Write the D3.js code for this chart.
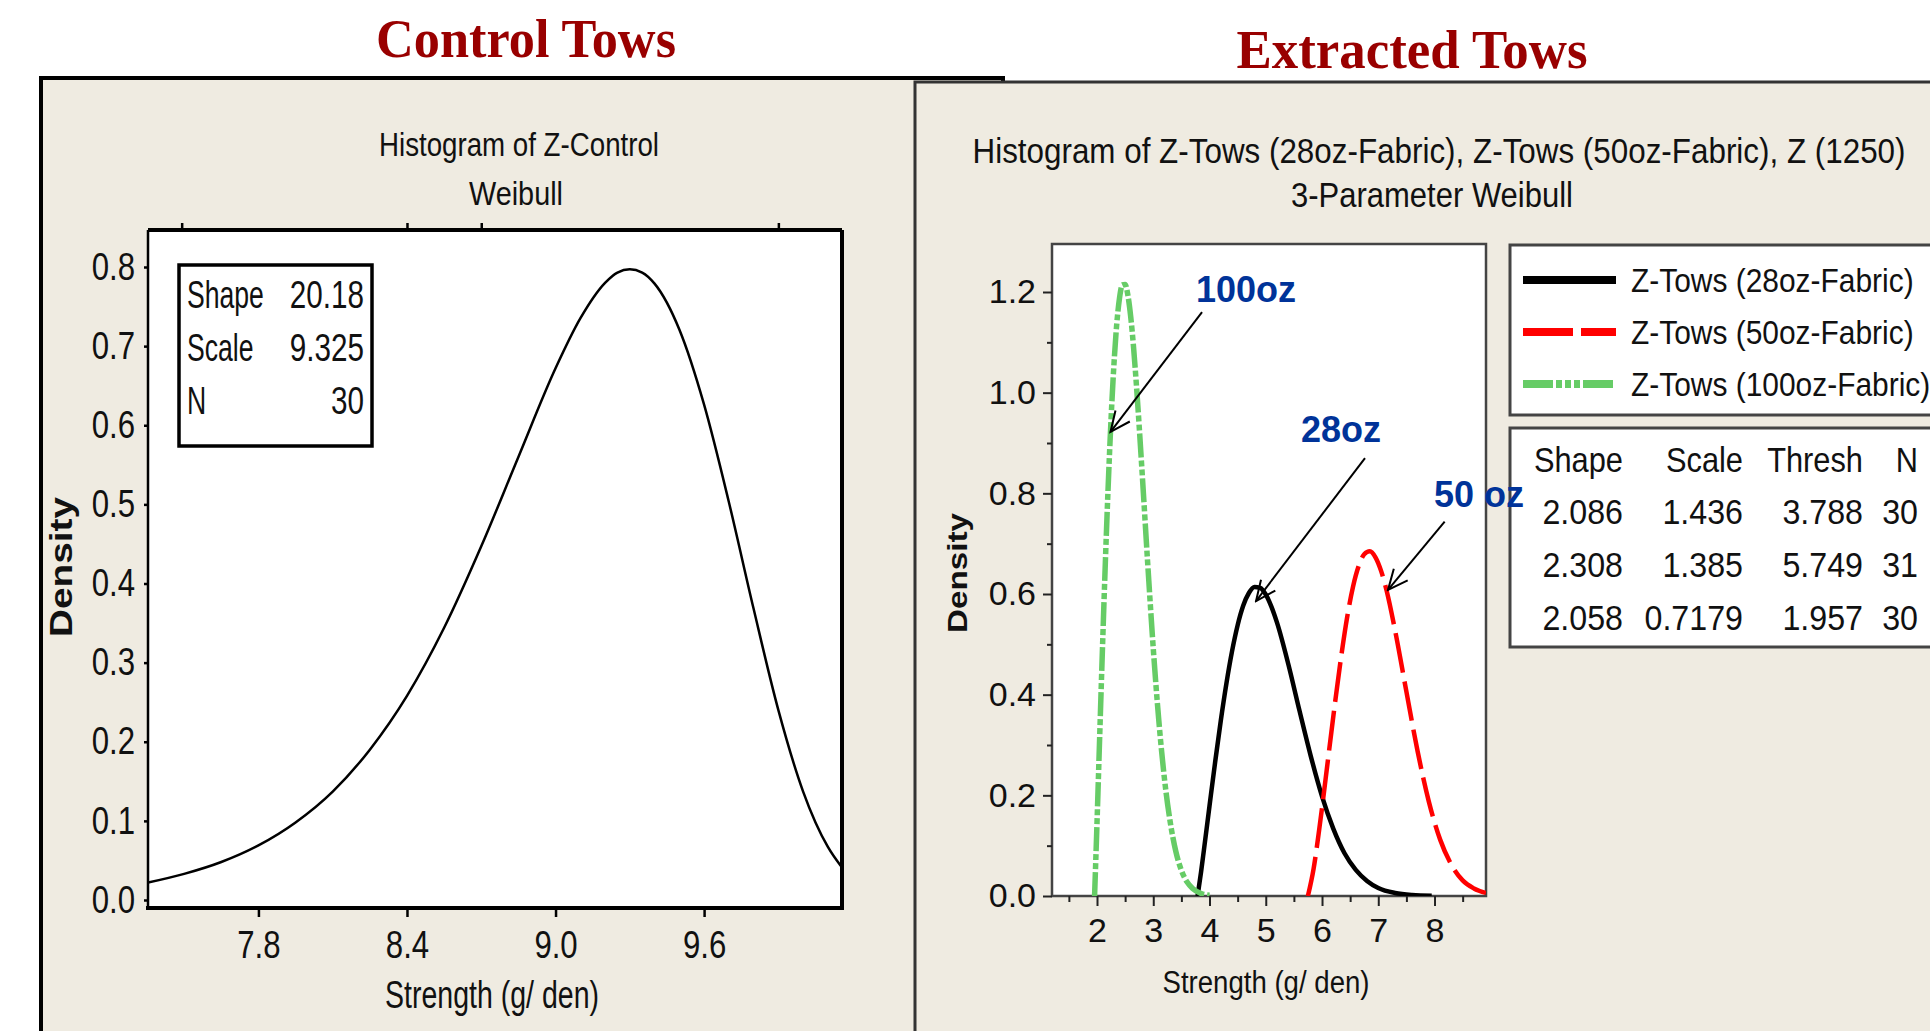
<!DOCTYPE html>
<html>
<head>
<meta charset="utf-8">
<script src="https://cdn.jsdelivr.net/npm/d3@7"></script>
<style>
  body { margin: 0; background: #fff; }
  svg text { font-family: "Liberation Sans", Arial, sans-serif; fill: #111; }
  .banner { font-family: "Liberation Serif", "Times New Roman", serif; font-weight: bold; fill: #990000; }
  .note { font-weight: bold; fill: #003399; }
</style>
</head>
<body>
<div id="chart"></div>
<script>
// ---------------- data ----------------
// left: Z-Control, Weibull fit
var controlX = [7.354, 7.5, 7.65, 7.8, 7.95, 8.1, 8.25, 8.4, 8.55, 8.7, 8.85, 9.0, 9.1, 9.2, 9.25, 9.3, 9.35, 9.4, 9.5, 9.6, 9.7, 9.8, 9.9, 10.0, 10.1, 10.157];
var controlY = [0.022, 0.033, 0.048, 0.069, 0.098, 0.137, 0.190, 0.258, 0.344, 0.447, 0.560, 0.672, 0.735, 0.780, 0.793, 0.797, 0.793, 0.779, 0.721, 0.626, 0.503, 0.368, 0.240, 0.137, 0.067, 0.041];
var controlXTicks = [7.8, 8.4, 9.0, 9.6];
var controlYTicks = [0, 0.1, 0.2, 0.3, 0.4, 0.5, 0.6, 0.7, 0.8];
var controlTopTicks = [7.49, 8.40, 8.70, 9.90];
var controlStats = [["Shape", "20.18"], ["Scale", "9.325"], ["N", "30"]];

// right: extracted tows, 3-parameter Weibull fits
var tow28X = [3.788, 3.85, 3.9, 4.0, 4.1, 4.2, 4.3, 4.4, 4.5, 4.6, 4.7, 4.8, 4.9, 5.0, 5.1, 5.2, 5.4, 5.6, 5.8, 6.0, 6.2, 6.4, 6.6, 6.8, 7.0, 7.3, 7.6, 7.95];
var tow28Y = [0, 0.048, 0.091, 0.179, 0.266, 0.348, 0.422, 0.486, 0.538, 0.577, 0.602, 0.614, 0.612, 0.599, 0.575, 0.543, 0.461, 0.368, 0.278, 0.198, 0.134, 0.085, 0.052, 0.030, 0.016, 0.006, 0.002, 0.0005];
var tow50X = [5.749, 5.85, 5.95, 6.05, 6.15, 6.25, 6.35, 6.45, 6.55, 6.65, 6.75, 6.85, 6.95, 7.05, 7.15, 7.3, 7.5, 7.7, 7.9, 8.1, 8.3, 8.5, 8.7, 8.915];
var tow50Y = [0, 0.054, 0.132, 0.220, 0.311, 0.400, 0.483, 0.556, 0.614, 0.655, 0.679, 0.685, 0.673, 0.646, 0.606, 0.527, 0.406, 0.287, 0.187, 0.112, 0.062, 0.031, 0.015, 0.006];
var tow100X = [1.957, 2.0, 2.05, 2.1, 2.15, 2.2, 2.25, 2.3, 2.35, 2.4, 2.45, 2.5, 2.55, 2.6, 2.65, 2.7, 2.8, 2.9, 3.0, 3.1, 3.2, 3.3, 3.4, 3.5, 3.6, 3.7, 3.85, 4.0];
var tow100Y = [0, 0.145, 0.325, 0.502, 0.668, 0.818, 0.948, 1.054, 1.135, 1.188, 1.214, 1.215, 1.193, 1.150, 1.090, 1.016, 0.845, 0.663, 0.492, 0.347, 0.232, 0.148, 0.089, 0.051, 0.028, 0.015, 0.005, 0.0015];

var seriesNames = ["Z-Tows (28oz-Fabric)", "Z-Tows (50oz-Fabric)", "Z-Tows (100oz-Fabric)"];
var statHeader = ["Shape", "Scale", "Thresh", "N"];
var shapeVals = ["2.086", "2.308", "2.058"];
var scaleVals = ["1.436", "1.385", "0.7179"];
var threshVals = ["3.788", "5.749", "1.957"];
var nVals = ["30", "31", "30"];

var towXTicks = [2, 3, 4, 5, 6, 7, 8];
var towXMinor = [1.5, 2.5, 3.5, 4.5, 5.5, 6.5, 7.5, 8.5];
var towYTicks = [0, 0.2, 0.4, 0.6, 0.8, 1.0, 1.2];
var towYMinor = [0.1, 0.3, 0.5, 0.7, 0.9, 1.1];

// callouts: label anchor, arrow start, arrow tip (data units)
var callouts = [
  { text: "100oz", lx: 3.76, ly: 1.180, x1: 3.867, y1: 1.160, x2: 2.24, y2: 0.922 },
  { text: "28oz",  lx: 5.627, ly: 0.902, x1: 6.764, y1: 0.870, x2: 4.827, y2: 0.586 },
  { text: "50 oz", lx: 7.991, ly: 0.773, x1: 8.18, y1: 0.744, x2: 7.173, y2: 0.608 }
];

// ---------------- drawing ----------------
var width = 1930, height = 1031;
var beige = "#efebe1";

var svg = d3.select("#chart").append("svg")
            .attr("width", width)
            .attr("height", height);

svg.append("defs").append("marker")
   .attr("id", "arrowhead")
   .attr("viewBox", "-22 -12 24 24")
   .attr("refX", 0).attr("refY", 0)
   .attr("markerWidth", 24).attr("markerHeight", 24)
   .attr("markerUnits", "userSpaceOnUse")
   .attr("orient", "auto")
   .append("path")
   .attr("d", "M-20,-9 L0,0 L-20,9")
   .attr("fill", "none").attr("stroke", "#000").attr("stroke-width", 2);

drawControl();
drawExtracted();

// the source plots use a tall, narrow screen font: squeeze the glyphs horizontally
function squeeze (sel, f) {
  sel.each(function () {
    var w = this.getComputedTextLength();
    d3.select(this).attr("textLength", w * f).attr("lengthAdjust", "spacingAndGlyphs");
  });
}

function drawControl () {
  // panel
  svg.append("rect").attr("x", 41).attr("y", 78).attr("width", 962).attr("height", 1000)
     .attr("fill", beige).attr("stroke", "#000").attr("stroke-width", 4);

  svg.append("text").attr("class", "banner")
     .attr("x", 526).attr("y", 57).attr("text-anchor", "middle")
     .attr("font-size", 54).attr("textLength", 300).attr("lengthAdjust", "spacingAndGlyphs")
     .text("Control Tows");

  svg.append("text").attr("x", 519).attr("y", 156)
     .attr("text-anchor", "middle").attr("font-size", 34)
     .attr("textLength", 280).attr("lengthAdjust", "spacingAndGlyphs")
     .text("Histogram of Z-Control");
  svg.append("text").attr("x", 516).attr("y", 205)
     .attr("text-anchor", "middle").attr("font-size", 34)
     .attr("textLength", 94).attr("lengthAdjust", "spacingAndGlyphs")
     .text("Weibull");

  var left = 148, right = 842, top = 230, bottom = 908;
  var x = d3.scaleLinear().domain([7.354, 10.157]).range([left, right]);
  var y = d3.scaleLinear().domain([0, 0.8]).range([900, 267]);

  svg.append("rect").attr("x", left).attr("y", top)
     .attr("width", right - left).attr("height", bottom - top).attr("fill", "#fff");

  svg.append("clipPath").attr("id", "clipL").append("rect")
     .attr("x", left).attr("y", top).attr("width", right - left).attr("height", bottom - top);

  var line = d3.line().x(function (d) { return x(d[0]); })
                      .y(function (d) { return y(d[1]); })
                      .curve(d3.curveMonotoneX);
  svg.append("path").datum(d3.zip(controlX, controlY))
     .attr("clip-path", "url(#clipL)")
     .attr("d", line).attr("fill", "none")
     .attr("stroke", "#000").attr("stroke-width", 2.5);

  // frame
  svg.append("line").attr("x1", left).attr("x2", right).attr("y1", top).attr("y2", top)
     .attr("stroke", "#000").attr("stroke-width", 4);
  svg.append("line").attr("x1", right).attr("x2", right).attr("y1", top).attr("y2", bottom)
     .attr("stroke", "#000").attr("stroke-width", 4);
  svg.append("line").attr("x1", left).attr("x2", left).attr("y1", top).attr("y2", bottom)
     .attr("stroke", "#000").attr("stroke-width", 2.5);
  svg.append("line").attr("x1", left - 2).attr("x2", right + 2).attr("y1", bottom).attr("y2", bottom)
     .attr("stroke", "#000").attr("stroke-width", 4);

  // axes
  var xAxis = d3.axisBottom(x).tickValues(controlXTicks).tickFormat(d3.format(".1f"))
                .tickSize(9).tickPadding(14);
  var gx = svg.append("g").attr("transform", "translate(0," + bottom + ")").call(xAxis);
  gx.select(".domain").remove();
  gx.selectAll("line").attr("stroke-width", 2.5);
  gx.selectAll("text").attr("font-size", 38).attr("fill", "#111").call(squeeze, 0.82);

  var gTop = svg.append("g").attr("transform", "translate(0," + top + ")")
                .call(d3.axisTop(x).tickValues(controlTopTicks).tickSize(7).tickFormat(""));
  gTop.select(".domain").remove();
  gTop.selectAll("line").attr("stroke-width", 2.5);

  var yAxis = d3.axisLeft(y).tickValues(controlYTicks).tickFormat(d3.format(".1f"))
                .tickSize(4).tickPadding(9);
  var gy = svg.append("g").attr("transform", "translate(" + left + ",0)").call(yAxis);
  gy.select(".domain").remove();
  gy.selectAll("line").attr("stroke-width", 2.5);
  gy.selectAll("text").attr("font-size", 38).attr("fill", "#111").call(squeeze, 0.82);

  svg.append("text")
     .attr("transform", "translate(72,567) rotate(-90)")
     .attr("text-anchor", "middle").attr("font-size", 32).attr("font-weight", "bold")
     .attr("textLength", 140).attr("lengthAdjust", "spacingAndGlyphs")
     .text("Density");

  svg.append("text").attr("x", 492).attr("y", 1008)
     .attr("text-anchor", "middle").attr("font-size", 38)
     .attr("textLength", 214).attr("lengthAdjust", "spacingAndGlyphs")
     .text("Strength (g/ den)");

  // stats box
  var box = svg.append("g");
  box.append("rect").attr("x", 179).attr("y", 265).attr("width", 193).attr("height", 181)
     .attr("fill", "#fff").attr("stroke", "#000").attr("stroke-width", 3.5);
  box.selectAll("text.k").data(controlStats).enter().append("text")
     .attr("class", "k").attr("x", 187)
     .attr("y", function (d, i) { return 308 + i * 53; })
     .attr("font-size", 38).text(function (d) { return d[0]; })
     .call(squeeze, 0.7);
  box.selectAll("text.v").data(controlStats).enter().append("text")
     .attr("class", "v").attr("x", 364).attr("text-anchor", "end")
     .attr("y", function (d, i) { return 308 + i * 53; })
     .attr("font-size", 38).text(function (d) { return d[1]; })
     .call(squeeze, 0.78);
}

function drawExtracted () {
  svg.append("rect").attr("x", 915).attr("y", 82).attr("width", 1100).attr("height", 1000)
     .attr("fill", beige).attr("stroke", "#333").attr("stroke-width", 3);

  svg.append("text").attr("class", "banner")
     .attr("x", 1412).attr("y", 68).attr("text-anchor", "middle")
     .attr("font-size", 54).attr("textLength", 351).attr("lengthAdjust", "spacingAndGlyphs")
     .text("Extracted Tows");

  svg.append("text").attr("x", 1439).attr("y", 163).attr("text-anchor", "middle")
     .attr("font-size", 35).attr("textLength", 933).attr("lengthAdjust", "spacingAndGlyphs")
     .text("Histogram of Z-Tows (28oz-Fabric), Z-Tows (50oz-Fabric), Z (1250)");
  svg.append("text").attr("x", 1432).attr("y", 207).attr("text-anchor", "middle")
     .attr("font-size", 35).attr("textLength", 282).attr("lengthAdjust", "spacingAndGlyphs")
     .text("3-Parameter Weibull");

  var left = 1052, right = 1486, top = 244, bottom = 896;
  var x = d3.scaleLinear().domain([1.2, 8.915]).range([left, right]);
  var y = d3.scaleLinear().domain([0, 1.2]).range([896, 292]);

  svg.append("rect").attr("x", left).attr("y", top)
     .attr("width", right - left).attr("height", bottom - top)
     .attr("fill", "#fff").attr("stroke", "#444").attr("stroke-width", 2.5);

  svg.append("clipPath").attr("id", "clipR").append("rect")
     .attr("x", left).attr("y", top).attr("width", right - left).attr("height", bottom - top);

  var line = d3.line().x(function (d) { return x(d[0]); })
                      .y(function (d) { return y(d[1]); })
                      .curve(d3.curveMonotoneX);

  var styles = [
    { color: "#000", width: 4.5, dash: null },
    { color: "#ff0000", width: 4.5, dash: "40,9" },
    { color: "#66cc66", width: 5.5, dash: "24,3,6,3,6,3" }
  ];
  var series = [d3.zip(tow28X, tow28Y), d3.zip(tow50X, tow50Y), d3.zip(tow100X, tow100Y)];

  svg.append("g").attr("clip-path", "url(#clipR)")
     .selectAll("path").data(series).enter().append("path")
     .attr("d", line).attr("fill", "none")
     .attr("stroke", function (d, i) { return styles[i].color; })
     .attr("stroke-width", function (d, i) { return styles[i].width; })
     .attr("stroke-dasharray", function (d, i) { return styles[i].dash; });

  // axes
  var gx = svg.append("g").attr("transform", "translate(0," + bottom + ")")
              .call(d3.axisBottom(x).tickValues(towXTicks).tickFormat(d3.format("d"))
                      .tickSize(10).tickPadding(12));
  gx.select(".domain").remove();
  gx.selectAll("line").attr("stroke-width", 2).attr("stroke", "#222");
  gx.selectAll("text").attr("font-size", 34).attr("fill", "#111");
  var gxm = svg.append("g").attr("transform", "translate(0," + bottom + ")")
               .call(d3.axisBottom(x).tickValues(towXMinor).tickFormat("").tickSize(6));
  gxm.select(".domain").remove();
  gxm.selectAll("line").attr("stroke-width", 2).attr("stroke", "#222");

  var gy = svg.append("g").attr("transform", "translate(" + left + ",0)")
              .call(d3.axisLeft(y).tickValues(towYTicks).tickFormat(d3.format(".1f"))
                      .tickSize(9).tickPadding(7));
  gy.select(".domain").remove();
  gy.selectAll("line").attr("stroke-width", 2).attr("stroke", "#222");
  gy.selectAll("text").attr("font-size", 34).attr("fill", "#111");
  var gym = svg.append("g").attr("transform", "translate(" + left + ",0)")
               .call(d3.axisLeft(y).tickValues(towYMinor).tickFormat("").tickSize(5));
  gym.select(".domain").remove();
  gym.selectAll("line").attr("stroke-width", 2).attr("stroke", "#222");

  svg.append("text").attr("transform", "translate(967,573) rotate(-90)")
     .attr("text-anchor", "middle").attr("font-size", 27).attr("font-weight", "bold")
     .attr("textLength", 120).attr("lengthAdjust", "spacingAndGlyphs")
     .text("Density");

  svg.append("text").attr("x", 1266).attr("y", 993).attr("text-anchor", "middle")
     .attr("font-size", 31).attr("textLength", 207).attr("lengthAdjust", "spacingAndGlyphs")
     .text("Strength (g/ den)");

  // legend
  var lg = svg.append("g");
  lg.append("rect").attr("x", 1510).attr("y", 245).attr("width", 500).attr("height", 170)
    .attr("fill", "#fff").attr("stroke", "#444").attr("stroke-width", 3);
  seriesNames.forEach(function (name, i) {
    var yy = 280 + i * 52;
    lg.append("line").attr("x1", 1523).attr("x2", 1616).attr("y1", yy).attr("y2", yy)
      .attr("stroke", styles[i].color).attr("stroke-width", 8)
      .attr("stroke-dasharray", i == 0 ? null : (i == 1 ? "50,8" : "30,3,6,3,6,3,6,3"));
    lg.append("text").attr("x", 1631).attr("y", yy + 12).attr("font-size", 34).text(name)
      .call(squeeze, 0.88);
  });

  // parameter table
  var tb = svg.append("g");
  tb.append("rect").attr("x", 1510).attr("y", 428).attr("width", 500).attr("height", 219)
    .attr("fill", "#fff").attr("stroke", "#444").attr("stroke-width", 3);
  var colRight = [1623, 1743, 1863, 1918];
  var cols = [shapeVals, scaleVals, threshVals, nVals];
  statHeader.forEach(function (h, c) {
    tb.append("text").attr("x", colRight[c]).attr("y", 472).attr("text-anchor", "end")
      .attr("font-size", 35).text(h).call(squeeze, 0.88);
    cols[c].forEach(function (v, r) {
      tb.append("text").attr("x", colRight[c]).attr("y", 524 + r * 53).attr("text-anchor", "end")
        .attr("font-size", 35).text(v).call(squeeze, 0.92);
    });
  });

  // callouts sit on top of everything (the "50 oz" label runs over the table box)
  var notes = svg.append("g");
  notes.selectAll("line").data(callouts).enter().append("line")
       .attr("x1", function (d) { return x(d.x1); }).attr("y1", function (d) { return y(d.y1); })
       .attr("x2", function (d) { return x(d.x2); }).attr("y2", function (d) { return y(d.y2); })
       .attr("stroke", "#000").attr("stroke-width", 2)
       .attr("marker-end", "url(#arrowhead)");
  notes.selectAll("text").data(callouts).enter().append("text")
       .attr("class", "note")
       .attr("x", function (d) { return x(d.lx); }).attr("y", function (d) { return y(d.ly); })
       .attr("font-size", 36).text(function (d) { return d.text; });
}
</script>
</body>
</html>
